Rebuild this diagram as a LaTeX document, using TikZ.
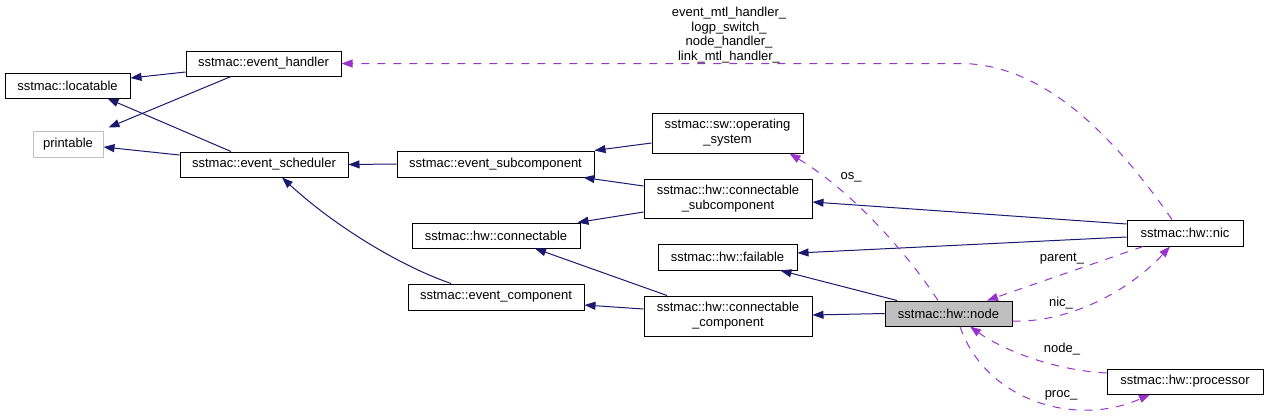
\documentclass[tikz,border=0pt]{standalone}
\usepackage{fontspec}
\setmainfont{Liberation Sans}
\usetikzlibrary{arrows.meta,calc}
\definecolor{inhc}{HTML}{191970}
\definecolor{usec}{HTML}{9A32CD}
\definecolor{greyb}{HTML}{BFBFBF}
\begin{document}
\begin{tikzpicture}[x=1pt,y=-1pt,
  box/.style={draw=black, line width=1pt, fill=white, minimum height=25pt, inner sep=0pt,
              font=\fontsize{13}{15}\selectfont, align=center},
  lbl/.style={inner sep=0pt, font=\fontsize{13}{14.7}\selectfont, align=center},
  inh/.style={draw=inhc, line width=1pt, -{Triangle[length=11pt,width=8pt,fill=inhc]}},
  use/.style={draw=usec, line width=1pt, dash pattern=on 8pt off 8pt,
              -{Triangle[length=11pt,width=8pt,fill=usec]}}]
\useasboundingbox (0,0) rectangle (1268,416);
% nodes
\node[box, minimum width=125pt] (loc) at (67.5,85.5) {sstmac::locatable};
\node[box, minimum width=155pt] (eh) at (263.5,63.5) {sstmac::event\_handler};
\node[box, draw=greyb, minimum width=70pt, minimum height=26pt] (prt) at (68,144) {printable};
\node[box, minimum width=168pt] (sched) at (264,164.5) {sstmac::event\_scheduler};
\node[box, minimum width=151pt, minimum height=40pt] (os) at (727.5,133) {sstmac::sw::operating\\\_system};
\node[box, minimum width=197pt, minimum height=26pt] (esub) at (495.5,164) {sstmac::event\_subcomponent};
\node[box, minimum width=168pt, minimum height=39pt] (csub) at (728,198.5) {sstmac::hw::connectable\\\_subcomponent};
\node[box, minimum width=168pt] (conn) at (496,235.5) {sstmac::hw::connectable};
\node[box, minimum width=139pt, minimum height=26pt] (fail) at (727.5,257) {sstmac::hw::failable};
\node[box, minimum width=176pt, minimum height=26pt] (ecomp) at (496,297) {sstmac::event\_component};
\node[box, minimum width=168pt, minimum height=40pt] (ccomp) at (728,316) {sstmac::hw::connectable\\\_component};
\node[box, minimum width=116pt, minimum height=26pt] (nic) at (1185,233) {sstmac::hw::nic};
\node[box, fill=greyb, minimum width=127pt] (nd) at (948.5,313.5) {sstmac::hw::node};
\node[box, minimum width=156pt] (proc) at (1185,381.5) {sstmac::hw::processor};
% inheritance edges
\draw[inh] ($(eh.west)+(0,8.5)$) -- ($(loc.east)+(0,-7.5)$);
\draw[inh] ($(eh.south)+(-32.5,0)$) -- ($(prt.north east)+(5,-3)$);
\draw[inh] ($(sched.north)+(-33,0)$) -- ($(loc.south)+(40,0)$);
\draw[inh] ($(sched.west)+(0,-9.5)$) -- ($(prt.east)+(0,3)$);
\draw[inh] (esub.west) -- (sched.east);
\draw[inh] ($(os.west)+(0,10)$) -- (esub.north east);
\draw[inh] ($(csub.west)+(0,-12.5)$) -- ($(esub.south east)+(-11,0)$);
\draw[inh] ($(csub.west)+(0,13.5)$) -- ($(conn.north east)+(-3,0)$);
\draw[inh] ($(ecomp.north)+(-45,0)$) .. controls (395,264) and (330,222) .. ($(sched.south)+(18,0)$);
\draw[inh] ($(ccomp.north)+(-61,0)$) -- ($(conn.south)+(39,0)$);
\draw[inh] ($(ccomp.west)+(0,-7)$) -- ($(ecomp.east)+(0,8)$);
\draw[inh] ($(nic.west)+(0,-9)$) -- ($(csub.east)+(0,3.5)$);
\draw[inh] ($(nic.west)+(0,4)$) -- ($(fail.east)+(0,-4)$);
\draw[inh] ($(nd.north)+(-51.5,0)$) -- ($(fail.south east)+(-17,0)$);
\draw[inh] (nd.west) -- ($(ccomp.east)+(0,-1)$);
% usage edges
\coordinate (bend) at (960,63.5);
\draw[use] ($(nic.north)+(-13,0)$) .. controls (1110,130) and (1040,63.5) .. (bend) -- (eh.east);
\node[lbl] (l1) at (729,35) {event\_mtl\_handler\_\\logp\_switch\_\\node\_handler\_\\link\_mtl\_handler\_};
\draw[use] ($(nd.north)+(-10.5,0)$) .. controls (905,250) and (850,190) .. ($(os.south east)+(-14,0)$);
\node[lbl] (l2) at (851,177) {os\_};
\draw[use] ($(nic.south)+(-42,0)$) -- ($(nd.north)+(38.5,0)$);
\node[lbl] (l3) at (1062,259) {parent\_};
\draw[use] ($(nd.east)+(0,7.5)$) .. controls (1070,323) and (1130,290) .. ($(nic.south)+(-15,0)$);
\node[lbl] (l4) at (1061,303) {nic\_};
\draw[use] ($(proc.west)+(0,-8.5)$) .. controls (1050,370) and (1000,348) .. ($(nd.south)+(21.5,0)$);
\node[lbl] (l5) at (1062,349) {node\_};
\draw[use] ($(nd.south)+(11.5,0)$) .. controls (985,400) and (1075,428) .. ($(proc.south)+(-35,0)$);
\node[lbl] (l6) at (1061,395) {proc\_};
\end{tikzpicture}
\end{document}
